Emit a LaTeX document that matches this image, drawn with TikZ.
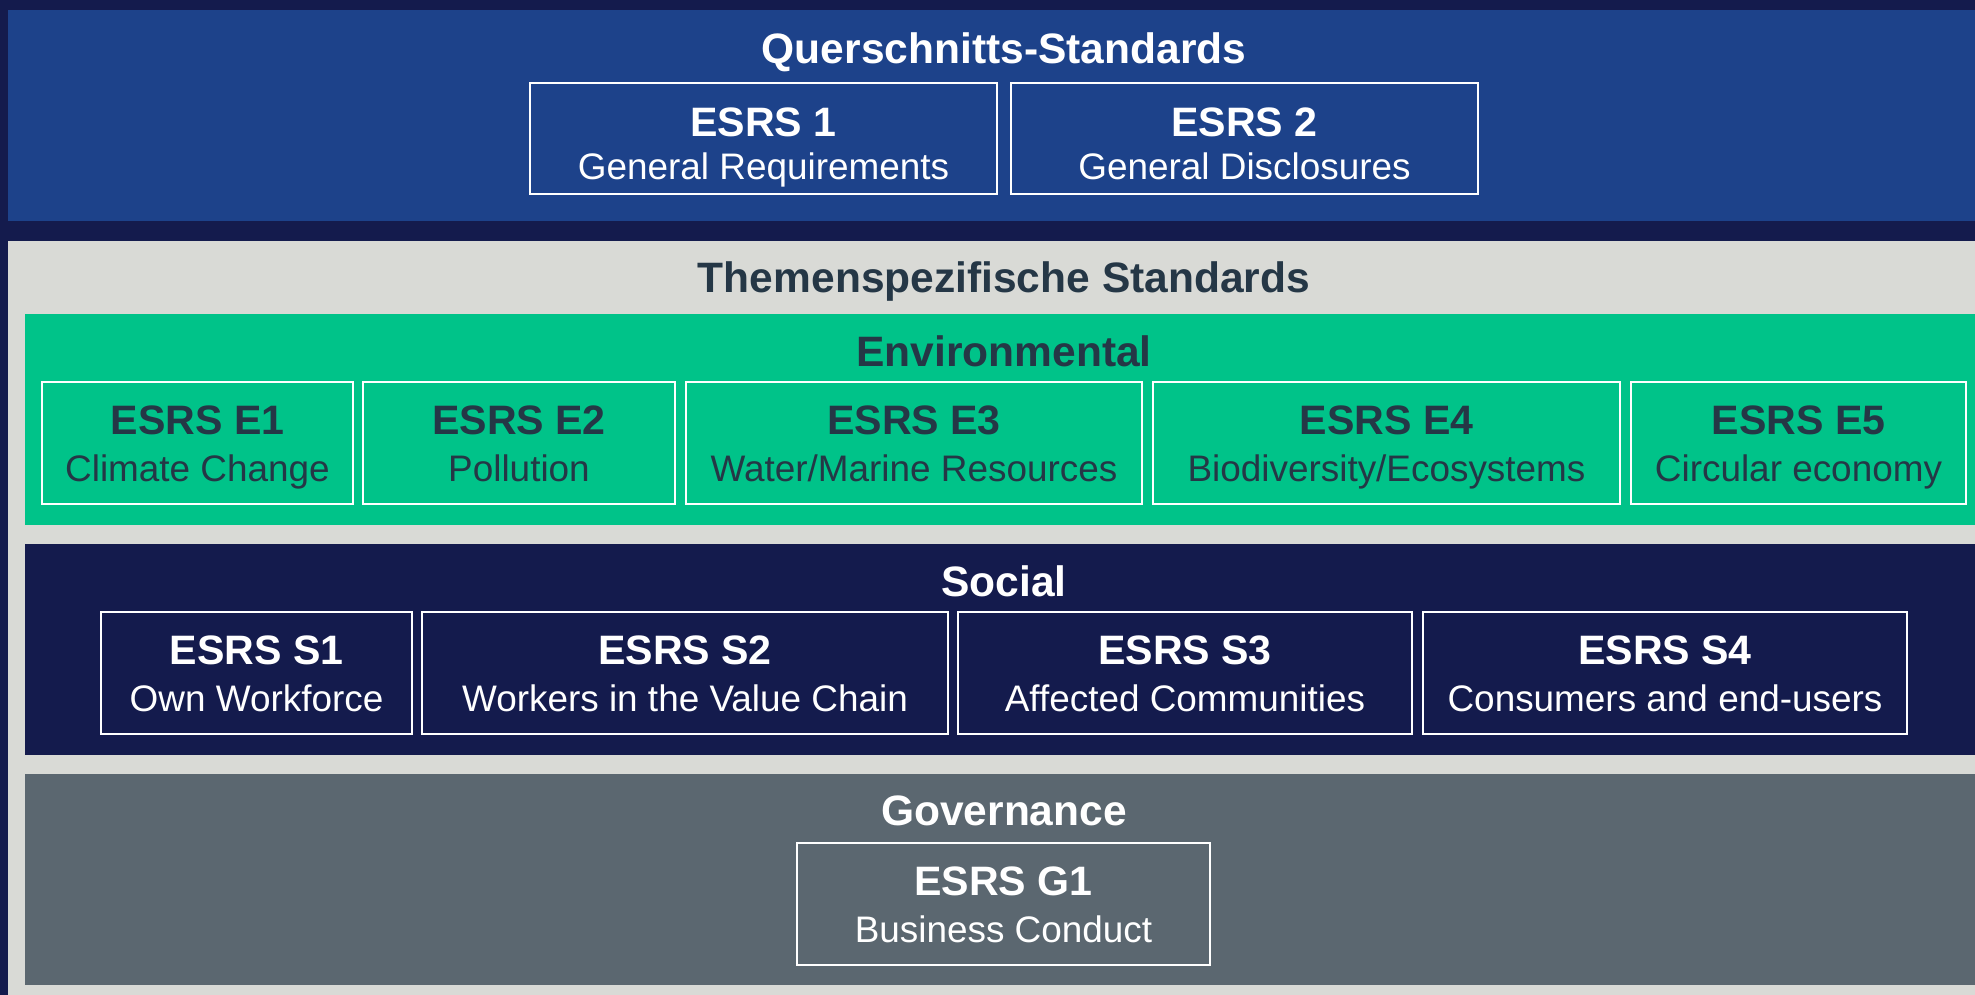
\documentclass[tikz,border=0pt]{standalone}
\usepackage{fontspec}
\setmainfont{Liberation Sans}

\definecolor{esrsnavy}{HTML}{141B4D}
\definecolor{esrsblue}{HTML}{1D428A}
\definecolor{esrslight}{HTML}{D9DAD6}
\definecolor{esrsgreen}{HTML}{00C389}
\definecolor{esrsslate}{HTML}{5B6770}
\definecolor{esrstext}{HTML}{253746}

% fixed height on the first line and fixed depth on the second, so all boxes line up
\def\esrsht{10.88pt}
\def\esrsdp{2.6pt}
\newcommand{\esrscode}{\rule{0pt}{\esrsht}\bfseries\fontsize{11.7}{13.4}\selectfont}
\newcommand{\esrsname}{\rule[-\esrsdp]{0pt}{\esrsdp}\mdseries\fontsize{10.5}{13.4}\selectfont}

\tikzset{
  esrsbox/.style={draw=white, line width=0.25mm, minimum height=12.2mm, inner sep=0pt, align=center,
    font=\fontsize{10.5}{13.4}\selectfont},
  toprow/.style={esrsbox, minimum height=11.1mm, font=\fontsize{10.5}{12.5}\selectfont,
    execute at begin node={\def\esrsht{13.7pt}}},
  paneltitle/.style={anchor=base, inner sep=0pt, font=\bfseries\fontsize{12.1}{14}\selectfont}
}

\begin{document}
\begin{tikzpicture}[x=0.1mm, y=-0.1mm]
    % Panels
    \fill[esrsnavy] (0,0) rectangle (1975,995);
    \fill[esrsblue] (8,10) rectangle (1975,221);
    \fill[esrslight] (8,241) rectangle (1975,995);
    \fill[esrsgreen] (25,314) rectangle (1975,525);
    \fill[esrsnavy] (25,544) rectangle (1975,755);
    \fill[esrsslate] (25,774) rectangle (1975,985);
    % Titles
    \node[paneltitle, white] (cross) at (1004,63) {Querschnitts-Standards};
    \node[paneltitle, esrstext] (topic) at (1004,292) {Themenspezifische Standards};
    \node[paneltitle, esrstext] (env) at (1004,366) {Environmental};
    \node[paneltitle, white] (soc) at (1004,596) {Social};
    \node[paneltitle, white] (gov) at (1004,825) {Governance};
    % Cross-cutting standards
    \node[toprow, text=white, minimum width=46.7mm] (esrs1) at (763.5,138.5) {{\esrscode ESRS 1}\\{\esrsname General Requirements}};
    \node[toprow, text=white, minimum width=46.7mm] (esrs2) at (1244.5,138.5) {{\esrscode ESRS 2}\\{\esrsname General Disclosures}};
    % Environmental
    \node[esrsbox, text=esrstext, minimum width=31.1mm] (e1) at (197.5,443) {{\esrscode ESRS E1}\\{\esrsname Climate Change}};
    \node[esrsbox, text=esrstext, minimum width=31.2mm] (e2) at (519,443) {{\esrscode ESRS E2}\\{\esrsname Pollution}};
    \node[esrsbox, text=esrstext, minimum width=45.6mm] (e3) at (914,443) {{\esrscode ESRS E3}\\{\esrsname Water/Marine Resources}};
    \node[esrsbox, text=esrstext, minimum width=46.7mm] (e4) at (1386.5,443) {{\esrscode ESRS E4}\\{\esrsname Biodiversity/Ecosystems}};
    \node[esrsbox, text=esrstext, minimum width=33.5mm] (e5) at (1798.5,443) {{\esrscode ESRS E5}\\{\esrsname Circular economy}};
    % Social
    \node[esrsbox, text=white, minimum width=31.1mm] (s1) at (256.5,673) {{\esrscode ESRS S1}\\{\esrsname Own Workforce}};
    \node[esrsbox, text=white, minimum width=52.6mm] (s2) at (685,673) {{\esrscode ESRS S2}\\{\esrsname Workers in the Value Chain}};
    \node[esrsbox, text=white, minimum width=45.4mm] (s3) at (1185,673) {{\esrscode ESRS S3}\\{\esrsname Affected Communities}};
    \node[esrsbox, text=white, minimum width=48.4mm] (s4) at (1665,673) {{\esrscode ESRS S4}\\{\esrsname Consumers and end-users}};
    % Governance
    \node[esrsbox, text=white, minimum width=41.3mm] (g1) at (1003.5,904) {{\esrscode ESRS G1}\\{\esrsname Business Conduct}};
\end{tikzpicture}
\end{document}
